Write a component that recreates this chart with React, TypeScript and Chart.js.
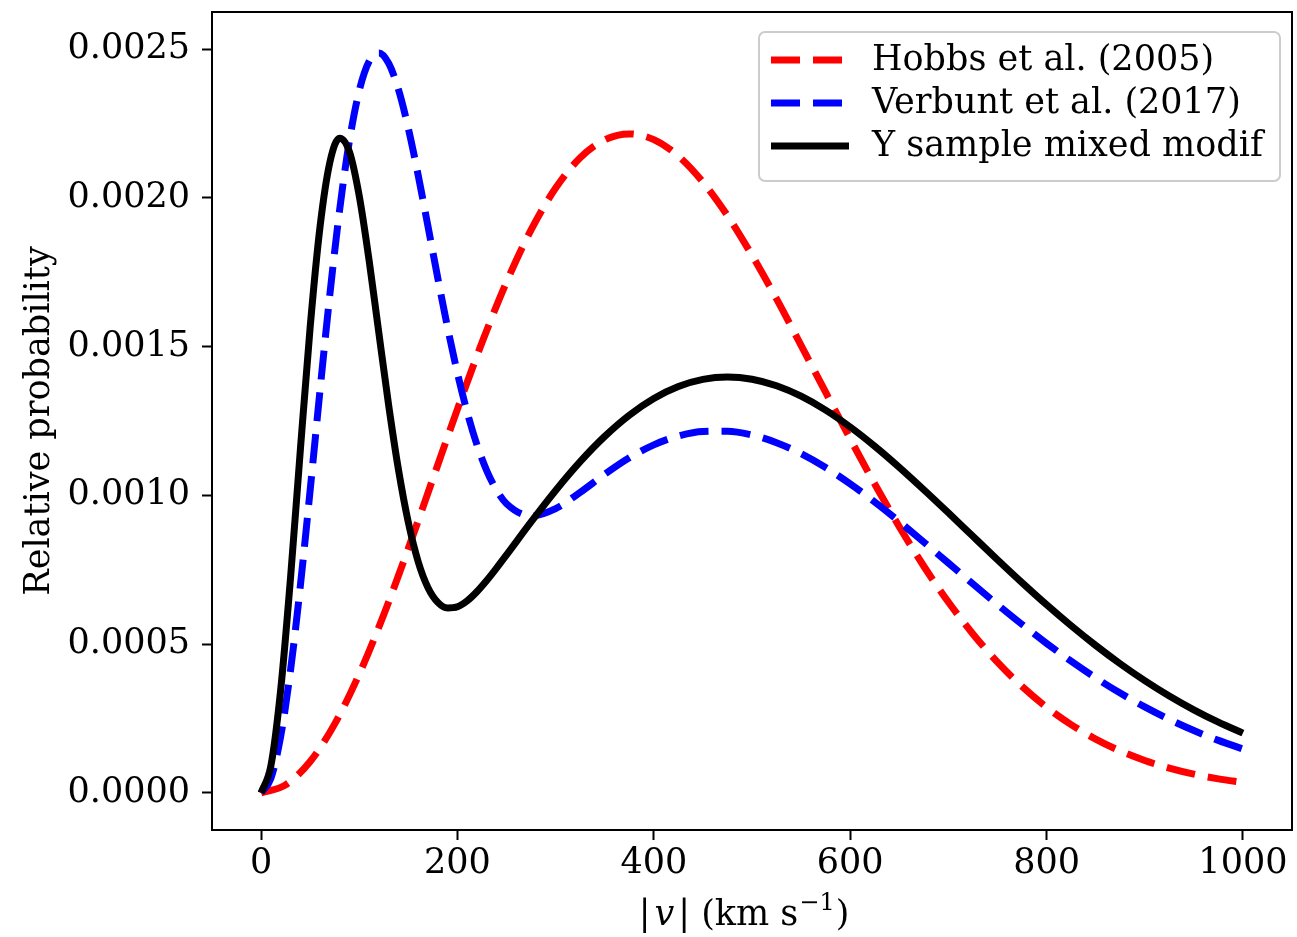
import React, { useEffect, useRef } from "react";
import { Chart, registerables } from "chart.js";

Chart.register(...registerables);

const FONT = "'DejaVu Serif', 'Liberation Serif', serif";
const FS = 35;

const xTicks = [0, 200, 400, 600, 800, 1000];
const yTicks = [0, 0.0005, 0.001, 0.0015, 0.002, 0.0025];
const seriesLabels = ["Hobbs et al. (2005)", "Verbunt et al. (2017)", "Y sample mixed modif"];
const seriesColors = ["#ff0000", "#0000ff", "#000000"];
const xTitle = ["|", "v", "|", " (km s", "\u22121", ")"];
const yTitle = "Relative probability";

// Hobbs et al. (2005)
const hobbsV = [0, 25, 50, 75, 100, 125, 150, 175, 200, 225, 250, 275, 300, 325, 350, 375, 400, 425, 450, 475, 500,
  525, 550, 575, 600, 625, 650, 675, 700, 725, 750, 775, 800, 825, 850, 875, 900, 925, 950, 975, 1000];
const hobbsP = [0, 2.67e-5, 1.053e-4, 2.317e-4, 3.993e-4, 5.994e-4, 8.219e-4, 1.0559e-3, 1.29e-3, 1.5138e-3, 1.7172e-3,
  1.8927e-3, 2.0332e-3, 2.1349e-3, 2.1955e-3, 2.2152e-3, 2.196e-3, 2.1406e-3, 2.0534e-3, 1.9406e-3, 1.8072e-3,
  1.6604e-3, 1.5045e-3, 1.3467e-3, 1.19e-3, 1.0384e-3, 8.947e-4, 7.617e-4, 6.414e-4, 5.341e-4, 4.394e-4,
  3.577e-4, 2.878e-4, 2.293e-4, 1.807e-4, 1.409e-4, 1.086e-4, 8.29e-5, 6.26e-5, 4.69e-5, 3.47e-5];

// shared velocity grid for the two bimodal curves
const fineV = [0, 10, 20, 30, 40, 50, 60, 70, 80, 90, 100, 110, 120, 130, 140, 150, 160, 170, 180, 190, 200, 210, 220,
  230, 240, 250, 275, 300, 325, 350, 375, 400, 425, 450, 475, 500, 525, 550, 575, 600, 625, 650, 675, 700, 725, 750,
  775, 800, 825, 850, 875, 900, 925, 950, 975, 1000];

// Verbunt et al. (2017)
const verbuntP = [0, 4.862e-5, 1.9022e-4, 4.1247e-4, 6.9639e-4, 1.01834e-3, 1.35258e-3, 1.67391e-3, 1.95997e-3,
  2.19284e-3, 2.36095e-3, 2.45884e-3, 2.48731e-3, 2.45201e-3, 2.36333e-3, 2.23328e-3, 2.0761e-3, 1.90402e-3,
  1.72997e-3, 1.56301e-3, 1.41089e-3, 1.2785e-3, 1.16856e-3, 1.08166e-3, 1.01667e-3, 9.7199e-4, 9.3088e-4,
  9.5563e-4, 1.01004e-3, 1.07097e-3, 1.12622e-3, 1.1699e-3, 1.19958e-3, 1.21486e-3, 1.21572e-3, 1.20281e-3,
  1.17717e-3, 1.14024e-3, 1.09353e-3, 1.03874e-3, 9.7768e-4, 9.12e-4, 8.4291e-4, 7.7254e-4, 7.0226e-4, 6.3316e-4,
  5.6627e-4, 5.0256e-4, 4.4248e-4, 3.8665e-4, 3.3531e-4, 2.8872e-4, 2.4673e-4, 2.0929e-4, 1.7626e-4, 1.4741e-4];

// Y sample mixed modif
const ySampleP = [0, 9.111e-5, 3.4774e-4, 7.2358e-4, 1.15326e-3, 1.56653e-3, 1.90224e-3, 2.1192e-3, 2.20088e-3,
  2.15467e-3, 2.00581e-3, 1.79025e-3, 1.54462e-3, 1.3016e-3, 1.0849e-3, 9.0845e-4, 7.7715e-4, 6.8974e-4,
  6.4041e-4, 6.2151e-4, 6.256e-4, 6.4586e-4, 6.769e-4, 7.147e-4, 7.564e-4, 8.001e-4, 9.108e-4, 1.0166e-3,
  1.11334e-3, 1.19819e-3, 1.26939e-3, 1.32552e-3, 1.36578e-3, 1.38981e-3, 1.39776e-3, 1.39028e-3, 1.36833e-3,
  1.33331e-3, 1.28658e-3, 1.22986e-3, 1.16525e-3, 1.09431e-3, 1.01895e-3, 9.413e-4, 8.6233e-4, 7.8382e-4,
  7.0688e-4, 6.3259e-4, 5.6202e-4, 4.9569e-4, 4.3401e-4, 3.7719e-4, 3.2555e-4, 2.7903e-4, 2.3749e-4, 2.0073e-4];

const LINE_W = 7;
const DASH = [29, 13];

const overlay = {
  id: "overlay",
  afterDraw(chart: any) {
    const { ctx, chartArea: a } = chart;
    ctx.save();
    // frame
    ctx.strokeStyle = "#000";
    ctx.lineWidth = 2;
    ctx.setLineDash([]);
    ctx.strokeRect(a.left, a.top, a.right - a.left, a.bottom - a.top);

    // legend
    const bx = a.right - 533;
    const by = a.top + 20;
    const bw = 521;
    const bh = 149;
    ctx.beginPath();
    (ctx as any).roundRect(bx, by, bw, bh, 6);
    ctx.fillStyle = "rgba(255,255,255,0.8)";
    ctx.fill();
    ctx.strokeStyle = "#cccccc";
    ctx.lineWidth = 2;
    ctx.stroke();
    const rows = [by + 28, by + 71, by + 114];
    chart.data.datasets.forEach((ds: any, i: number) => {
      const y = rows[i];
      ctx.beginPath();
      ctx.strokeStyle = ds.borderColor;
      ctx.lineWidth = LINE_W;
      ctx.lineCap = "butt";
      ctx.setLineDash(ds.borderDash || []);
      ctx.moveTo(bx + 12, y);
      ctx.lineTo(bx + 90, y);
      ctx.stroke();
      ctx.setLineDash([]);
      ctx.fillStyle = "#000";
      ctx.font = `${FS}px ${FONT}`;
      ctx.textAlign = "left";
      ctx.textBaseline = "middle";
      ctx.fillText(ds.label, bx + 113, y + 1);
    });

    // y title
    ctx.save();
    ctx.translate(40, (a.top + a.bottom) / 2);
    ctx.rotate(-Math.PI / 2);
    ctx.font = `${FS}px ${FONT}`;
    ctx.fillStyle = "#000";
    ctx.textAlign = "center";
    ctx.textBaseline = "middle";
    ctx.fillText(yTitle, 0, 0);
    ctx.restore();

    // x title with italic v and superscript
    const segs = [
      { t: xTitle[0], f: `${FS}px ${FONT}`, dy: 0, gap: 4 },
      { t: xTitle[1], f: `italic ${FS}px ${FONT}`, dy: 0, gap: 4 },
      { t: xTitle[2], f: `${FS}px ${FONT}`, dy: 0, gap: 0 },
      { t: xTitle[3], f: `${FS}px ${FONT}`, dy: 0, gap: 1 },
      { t: xTitle[4], f: `24px ${FONT}`, dy: -15, gap: 1 },
      { t: xTitle[5], f: `${FS}px ${FONT}`, dy: 0, gap: 0 },
    ];
    let total = 0;
    const widths = segs.map((s) => {
      ctx.font = s.f;
      const w = ctx.measureText(s.t).width + s.gap;
      total += w;
      return w;
    });
    let x = (a.left + a.right) / 2 - 8 - total / 2;
    const base = 925;
    ctx.textAlign = "left";
    ctx.textBaseline = "alphabetic";
    ctx.fillStyle = "#000";
    segs.forEach((s, i) => {
      ctx.font = s.f;
      ctx.fillText(s.t, x, base + s.dy);
      x += widths[i];
    });
    ctx.restore();
  },
};

export default function App() {
  const ref = useRef<HTMLCanvasElement | null>(null);
  useEffect(() => {
    if (!ref.current) return;
    const mk = (vs: number[], ps: number[]) => vs.map((v, i) => ({ x: v, y: ps[i] }));
    const chart = new Chart(ref.current, {
      type: "line",
      data: {
        datasets: [
          {
            label: seriesLabels[0],
            data: mk(hobbsV, hobbsP),
            borderColor: seriesColors[0],
            borderDash: DASH,
            borderWidth: LINE_W,
            order: 3,
          },
          {
            label: seriesLabels[1],
            data: mk(fineV, verbuntP),
            borderColor: seriesColors[1],
            borderDash: DASH,
            borderWidth: LINE_W,
            order: 2,
          },
          {
            label: seriesLabels[2],
            data: mk(fineV, ySampleP),
            borderColor: seriesColors[2],
            borderWidth: LINE_W,
            order: 1,
          },
        ],
      },
      options: {
        animation: false,
        responsive: false,
        devicePixelRatio: 1,
        layout: { padding: { left: 0, top: 12, right: 5, bottom: 0 } },
        elements: {
          point: { radius: 0, hoverRadius: 0 },
          line: { cubicInterpolationMode: "monotone", borderCapStyle: "butt", fill: false },
        },
        plugins: {
          legend: { display: false },
          tooltip: { enabled: false },
          title: { display: false },
        },
        scales: {
          x: {
            type: "linear",
            min: -50,
            max: 1050,
            afterBuildTicks: (s: any) => {
              s.ticks = xTicks.map((v) => ({ value: v }));
            },
            afterFit: (s: any) => {
              s.height = 107;
              s.paddingLeft = 0;
              s.paddingRight = 0;
              s.paddingTop = 0;
              s.paddingBottom = 0;
            },
            grid: { display: true, drawOnChartArea: false, drawTicks: true, tickLength: 10, tickWidth: 2, tickColor: "#000" },
            border: { display: false },
            ticks: {
              font: { family: FONT, size: FS },
              color: "#000",
              padding: 3,
              maxRotation: 0,
              autoSkip: false,
              callback: (v: any) => String(v),
            },
          },
          y: {
            type: "linear",
            min: -0.000125,
            max: 0.002625,
            afterBuildTicks: (s: any) => {
              s.ticks = yTicks.map((v) => ({ value: v }));
            },
            afterFit: (s: any) => {
              s.width = 212;
              s.paddingLeft = 0;
              s.paddingRight = 0;
              s.paddingTop = 0;
              s.paddingBottom = 0;
            },
            grid: { display: true, drawOnChartArea: false, drawTicks: true, tickLength: 10, tickWidth: 2, tickColor: "#000" },
            border: { display: false },
            ticks: {
              font: { family: FONT, size: FS },
              color: "#000",
              padding: 12,
              autoSkip: false,
              callback: (v: any) => Number(v).toFixed(4),
            },
          },
        },
      },
      plugins: [overlay],
    } as any);
    return () => chart.destroy();
  }, []);
  return (
    <div style={{ position: "absolute", left: 0, top: 0, width: 1297, height: 937, background: "#fff" }}>
      <canvas ref={ref} width={1297} height={937} style={{ display: "block" }} />
    </div>
  );
}
